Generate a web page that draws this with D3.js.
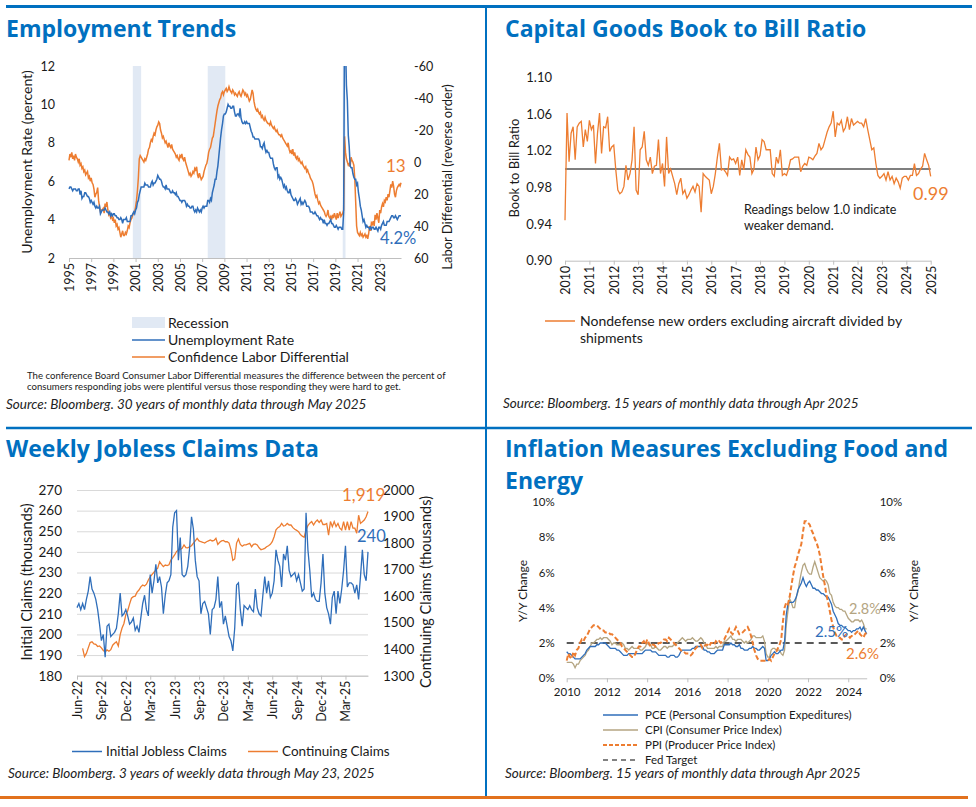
<!DOCTYPE html>
<html>
<head>
<meta charset="utf-8">
<script src="https://cdn.jsdelivr.net/npm/d3@7"></script>
<style>
body { margin: 0; background: #fff; }
svg text { font-family: Lato, sans-serif; fill: #1a1a1a; }
.title { font-family: "Open Sans", sans-serif; font-weight: 700; font-size: 23px; fill: #0070c0; }
.source { font-style: italic; font-size: 13.5px; fill: #222; }
.axis .domain { stroke: #bfbfbf; }
.axis line { stroke: #bfbfbf; }
</style>
</head>
<body>
<svg id="chart" width="976" height="807"></svg>
<script>
// VARIABLES
var width = 976;
var height = 807;

var blueLine = "#2f6eba";
var orangeLine = "#ed7d31";
var tanLine = "#b4a582";
var recessionFill = "#e1e9f4";

// ---------- Employment Trends (monthly, Jun 1995 - May 2025)
var yearLabels1 = ["1995","1997","1999","2001","2003","2005","2007","2009","2011","2013","2015","2017","2019","2021","2023"];
var recessions = [["2001-03","2001-11"],["2007-12","2009-06"],["2020-02","2020-04"]];
var unempRate = [5.6,5.7,5.7,5.6,5.5,5.6,5.6,
  5.6,5.5,5.5,5.6,5.6,5.3,5.5,5.1,5.2,5.2,5.4,5.4,
  5.3,5.2,5.2,5.1,4.9,5.0,4.9,4.8,4.9,4.7,4.6,4.7,
  4.6,4.6,4.7,4.3,4.4,4.5,4.5,4.5,4.6,4.5,4.4,4.4,
  4.3,4.4,4.2,4.3,4.2,4.3,4.3,4.2,4.2,4.1,4.1,4.0,
  4.0,4.1,4.0,3.8,4.0,4.0,4.0,4.1,3.9,3.9,3.9,3.9,
  4.2,4.2,4.3,4.4,4.3,4.5,4.6,4.9,5.0,5.3,5.5,5.7,
  5.7,5.7,5.7,5.9,5.8,5.8,5.8,5.7,5.7,5.7,5.9,6.0,
  5.8,5.9,5.9,6.0,6.1,6.3,6.2,6.1,6.1,6.0,5.8,5.7,
  5.7,5.6,5.8,5.6,5.6,5.6,5.5,5.4,5.4,5.5,5.4,5.4,
  5.3,5.4,5.2,5.2,5.1,5.0,5.0,4.9,5.0,5.0,5.0,4.9,
  4.7,4.8,4.7,4.7,4.6,4.6,4.7,4.7,4.5,4.4,4.5,4.4,
  4.6,4.5,4.4,4.5,4.4,4.6,4.7,4.6,4.7,4.7,4.7,5.0,
  5.0,4.9,5.1,5.0,5.4,5.6,5.8,6.1,6.1,6.5,6.8,7.3,
  7.8,8.3,8.7,9.0,9.4,9.5,9.5,9.6,9.8,10.0,9.9,9.9,
  9.8,9.8,9.9,9.9,9.6,9.4,9.4,9.5,9.5,9.4,9.8,9.3,
  9.1,9.0,9.0,9.1,9.0,9.1,9.0,9.0,9.0,8.8,8.6,8.5,
  8.3,8.3,8.2,8.2,8.2,8.2,8.2,8.1,7.8,7.8,7.7,7.9,
  8.0,7.7,7.5,7.6,7.5,7.5,7.3,7.2,7.2,7.2,6.9,6.7,
  6.6,6.7,6.7,6.2,6.3,6.1,6.2,6.1,5.9,5.7,5.8,5.6,
  5.7,5.5,5.4,5.4,5.6,5.3,5.2,5.1,5.0,5.0,5.1,5.0,
  4.8,4.9,5.0,5.1,4.8,4.9,4.8,4.9,5.0,4.9,4.7,4.7,
  4.7,4.6,4.4,4.4,4.4,4.3,4.3,4.4,4.3,4.2,4.2,4.1,
  4.0,4.1,4.0,4.0,3.8,4.0,3.8,3.8,3.7,3.8,3.8,3.9,
  4.0,3.8,3.8,3.7,3.6,3.6,3.7,3.6,3.5,3.6,3.6,3.6,
  3.5,3.5,4.4,14.8,13.2,11.0,10.2,8.4,7.8,6.8,6.7,6.7,
  6.4,6.2,6.1,6.1,5.8,5.9,5.4,5.1,4.7,4.5,4.2,3.9,
  4.0,3.8,3.6,3.7,3.6,3.6,3.5,3.6,3.5,3.6,3.6,3.5,
  3.5,3.6,3.5,3.4,3.6,3.6,3.5,3.7,3.8,3.9,3.7,3.7,
  3.7,3.9,3.9,3.9,4.0,4.1,4.2,4.2,4.1,4.1,4.2,4.1,
  4.0,4.1,4.2,4.2,4.2];
var laborDiff = [-1,-5,-3,-6,-2,-4,-1,-5,-3,-2,0,-2,
  2,1,4,3,6,5,8,7,6,10,9,12,
  10,13,14,17,22,20,19,16,24,28,31,30,
  30,29,32,26,28,25,30,33,32,35,34,36,
  35,38,36,40,39,42,41,44,47,45,43,46,
  46,44,45,43,40,41,38,36,35,33,32,31,
  28,24,18,10,-2,-4,-3,-2,-1,0,-2,-1,
  -3,-5,-8,-9,-12,-14,-13,-16,-18,-17,-20,-22,
  -23,-25,-24,-20,-18,-15,-16,-14,-12,-13,-11,-9,
  -12,-10,-9,-11,-8,-7,-6,-5,-3,-4,-2,-1,
  -4,-3,-5,-2,-1,-3,0,2,4,6,8,7,
  9,8,6,7,4,5,3,8,10,7,9,11,
  10,9,6,4,2,1,-2,-6,-8,-9,-12,-15,
  -16,-20,-24,-28,-32,-35,-37,-39,-40,-43,-44,-42,
  -44,-45,-46,-44,-45,-47,-45,-44,-43,-45,-44,-42,
  -43,-42,-41,-43,-44,-42,-41,-43,-45,-44,-42,-43,
  -41,-42,-40,-38,-39,-42,-45,-43,-38,-35,-33,-32,
  -33,-31,-30,-31,-28,-29,-27,-26,-28,-26,-25,-24,
  -24,-23,-25,-23,-22,-21,-22,-20,-19,-20,-18,-17,
  -17,-16,-17,-15,-14,-13,-12,-11,-10,-12,-8,-6,
  -7,-5,-8,-4,-6,-3,-2,-4,-1,-2,0,1,
  0,2,3,4,3,6,5,7,8,10,11,12,
  14,17,20,22,21,24,26,25,27,28,29,30,
  31,33,34,33,30,34,35,34,36,33,35,32,
  34,36,32,35,33,31,34,33,32,30,-16,-6,
  -2,0,2,1,3,-3,-1,0,2,10,25,40,
  44,45,46,44,46,45,47,46,45,47,46,48,
  45,40,43,38,39,37,40,33,36,32,35,38,
  30,32,28,26,28,24,25,22,24,20,22,18,
  14,16,12,15,20,22,18,16,15,14,15,13];

// ---------- Capital goods book to bill (monthly)
var yearLabels2 = ["2010","2011","2012","2013","2014","2015","2016","2017","2018","2019","2020","2021","2022","2023","2024","2025"];
var bookToBill = [0.944,1.061,1.008,1.039,1.046,1.010,1.046,1.050,1.052,1.024,1.043,1.030,
  1.053,1.043,1.048,1.006,1.039,1.061,1.017,1.046,1.045,1.057,1.019,1.024,
  1.026,0.999,0.977,0.973,0.975,0.981,1.004,0.988,0.995,1.010,1.046,0.977,
  0.972,1.021,1.024,1.041,1.010,1.004,1.013,0.995,1.003,1.004,1.032,0.995,
  1.006,0.981,1.035,0.995,1.000,0.992,0.984,0.972,0.984,0.990,0.973,0.977,
  0.968,0.972,0.977,0.981,0.975,0.984,0.981,0.953,0.995,0.992,0.990,0.988,
  0.973,0.981,0.995,1.013,1.028,0.999,1.000,0.997,0.993,1.013,1.010,1.011,
  1.006,1.013,0.993,1.010,0.999,1.021,1.016,1.013,0.995,1.000,1.024,1.010,
  1.015,1.032,1.030,1.021,1.021,1.021,0.995,0.992,1.013,1.006,1.021,0.993,
  0.995,0.993,1.000,1.010,1.011,1.013,1.013,1.013,0.997,1.003,1.006,1.004,
  1.013,1.012,1.010,1.014,1.017,1.028,1.021,1.024,1.032,1.040,1.046,1.050,
  1.063,1.035,1.050,1.048,1.053,1.041,1.045,1.057,1.043,1.055,1.048,1.050,
  1.052,1.050,1.050,1.046,1.055,1.043,1.032,1.021,1.023,1.006,0.993,0.990,
  0.992,0.995,0.988,0.997,0.988,0.992,0.984,0.990,0.986,0.979,0.990,0.992,
  0.992,0.988,0.993,0.993,1.006,0.993,0.995,1.000,1.003,1.017,1.010,1.004,
  0.992];
var bookTicks = [0.90,0.94,0.98,1.02,1.06,1.10];

// ---------- Weekly jobless claims (Jun 2022 - May 23, 2025)
var weekLabels = ["Jun-22","Sep-22","Dec-22","Mar-23","Jun-23","Sep-23","Dec-23","Mar-24","Jun-24","Sep-24","Dec-24","Mar-25"];
var initialClaims = [213,215,212,215,212,217,221,228,222,220,
  217,212,205,197,200,189,204,205,199,200,
  201,203,210,220,209,210,212,209,205,206,
  208,202,204,201,208,215,219,212,209,229,
  220,226,234,225,228,223,210,219,225,226,
  229,252,259,260,236,247,229,228,229,233,
  242,257,251,236,228,226,210,215,216,213,
  210,200,212,213,217,228,213,216,205,209,
  204,199,197,192,203,224,225,212,204,214,
  213,212,214,212,211,222,213,210,209,219,
  228,220,226,218,220,226,241,236,233,223,
  239,236,243,231,228,229,230,226,229,225,
  221,222,259,241,231,218,220,217,216,216,
  225,239,220,213,210,205,218,221,210,221,
  215,222,231,243,223,225,225,224,220,224,
  217,228,241,229,226,240];
var continuingClaims = [null,null,null,1403,1372,1384,1405,1425,1428,1420,
  1418,1410,1412,1405,1395,1390,1397,1392,1398,1415,
  1422,1428,1412,1455,1480,1497,1530,1545,1570,1592,
  1598,1600,1615,1623,1635,1642,1638,1645,1661,1673,
  1682,1690,1698,1705,1730,1720,1711,1717,1715,1718,
  1736,1745,1755,1768,1774,1776,1780,1793,1783,1782,
  1786,1790,1800,1808,1818,1808,1805,1803,1800,1805,
  1808,1812,1808,1810,1818,1795,1803,1808,1810,1805,
  1805,1800,1775,1735,1740,1800,1815,1795,1788,1793,
  1793,1796,1799,1786,1795,1797,1793,1782,1775,1777,
  1780,1786,1790,1795,1805,1824,1850,1858,1862,1874,
  1864,1866,1874,1868,1868,1858,1852,1848,1843,1832,
  1826,1822,1849,1866,1875,1881,1868,1880,1887,1878,
  1887,1870,1870,1874,1830,1881,1862,1881,1862,1874,
  1856,1849,1881,1849,1881,1849,1881,1856,1856,1837,
  1905,1874,1880,1887,1899,1919];

// ---------- Inflation ex food & energy (monthly, May 2010 - Apr 2025)
var yearLabels4 = ["2010","2012","2014","2016","2018","2020","2022","2024"];
var pce = [1.5,1.4,1.4,1.3,1.2,1.1,1.1,1.1,
  1.1,1.2,1.3,1.4,1.6,1.7,1.8,1.8,1.8,1.8,1.9,1.9,
  2.0,2.0,2.0,2.0,1.9,1.8,1.7,1.7,1.7,1.7,1.6,1.6,
  1.5,1.4,1.3,1.3,1.3,1.4,1.4,1.4,1.4,1.4,1.4,1.4,
  1.4,1.4,1.5,1.6,1.6,1.6,1.6,1.5,1.5,1.5,1.4,1.3,
  1.3,1.3,1.3,1.3,1.2,1.2,1.3,1.3,1.3,1.2,1.2,1.3,
  1.5,1.6,1.6,1.6,1.6,1.6,1.6,1.7,1.7,1.8,1.8,1.8,
  1.8,1.8,1.6,1.6,1.5,1.5,1.4,1.4,1.4,1.5,1.6,1.6,
  1.6,1.6,1.9,1.9,1.9,1.9,2.0,1.9,1.9,1.8,1.8,1.9,
  1.7,1.7,1.6,1.6,1.6,1.7,1.7,1.8,1.7,1.7,1.6,1.6,
  1.7,1.8,1.7,1.0,1.0,1.1,1.3,1.4,1.5,1.4,1.4,1.5,
  1.6,1.6,2.1,3.6,4.2,4.3,4.3,4.3,4.4,4.6,5.0,5.2,
  5.4,5.7,5.4,5.2,5.4,5.5,5.3,5.1,5.1,5.0,5.0,4.9,
  4.8,4.8,4.7,4.6,4.6,4.4,4.2,3.8,3.6,3.4,3.1,3.0,
  3.0,2.9,2.9,2.8,2.7,2.7,2.6,2.7,2.7,2.8,2.8,2.9,
  2.7,2.9,2.7,2.5];
var cpi = [0.9,0.9,0.9,0.9,0.8,0.6,0.8,0.8,
  1.0,1.1,1.2,1.3,1.5,1.6,1.8,2.0,2.0,2.1,2.2,2.2,
  2.3,2.2,2.3,2.3,2.3,2.2,2.1,1.9,2.0,2.0,1.9,1.9,
  1.9,2.0,1.9,1.7,1.7,1.6,1.7,1.8,1.7,1.7,1.7,1.7,
  1.6,1.6,1.7,1.8,2.0,1.9,1.9,1.7,1.7,1.8,1.7,1.6,
  1.6,1.7,1.8,1.8,1.7,1.8,1.8,1.8,1.9,1.9,2.0,2.1,
  2.2,2.3,2.2,2.1,2.2,2.2,2.2,2.3,2.2,2.1,2.1,2.2,
  2.3,2.2,2.0,1.9,1.7,1.7,1.7,1.7,1.7,1.8,1.7,1.8,
  1.8,1.8,2.1,2.1,2.2,2.3,2.4,2.2,2.2,2.1,2.2,2.2,
  2.2,2.1,2.0,2.1,2.0,2.1,2.2,2.4,2.4,2.3,2.3,2.3,
  2.3,2.4,2.1,1.4,1.2,1.2,1.6,1.7,1.7,1.6,1.6,1.6,
  1.4,1.3,1.6,3.0,3.8,4.5,4.3,4.0,4.0,4.6,4.9,5.5,
  6.0,6.4,6.5,6.2,6.0,5.9,5.9,6.3,6.6,6.3,6.0,5.7,
  5.6,5.5,5.6,5.5,5.3,4.8,4.7,4.3,4.1,4.0,4.0,3.9,
  3.9,3.8,3.8,3.6,3.4,3.3,3.2,3.2,3.3,3.3,3.3,3.2,
  3.3,3.1,2.8,2.8];
var ppi = [1.0,1.4,1.2,1.1,1.5,1.3,1.6,1.7,
  2.0,2.2,2.1,2.3,2.4,2.6,2.8,2.9,3.0,3.0,3.0,2.9,
  2.8,2.7,2.7,2.6,2.6,2.6,2.5,2.5,2.4,2.3,2.2,2.1,
  2.0,1.8,1.7,1.6,1.5,1.4,1.3,1.2,1.2,1.4,1.6,1.8,
  1.8,2.0,2.1,1.9,2.2,2.0,1.8,1.9,1.9,1.8,1.9,2.0,
  2.0,2.1,2.2,2.2,2.1,2.3,2.2,2.1,2.0,1.9,1.8,1.7,
  1.6,1.5,1.5,1.4,1.4,1.4,1.3,1.4,1.6,1.7,1.8,1.9,
  1.9,1.7,1.8,1.9,1.9,1.8,2.0,2.0,1.9,2.1,2.0,2.1,
  2.0,2.1,2.2,2.4,2.6,2.8,2.6,2.5,2.7,2.9,2.7,2.5,
  2.5,2.6,2.7,2.8,2.9,2.7,2.4,2.0,1.6,1.3,1.1,1.0,
  1.0,1.0,1.0,1.0,1.0,1.1,1.0,1.2,1.4,1.5,1.7,1.9,
  2.2,3.2,4.0,4.3,4.2,4.6,5.2,5.8,6.3,6.6,7.0,7.3,
  7.6,8.3,8.9,8.9,8.8,8.7,8.4,8.2,7.9,7.7,7.4,7.0,
  6.4,5.8,5.3,4.7,4.3,3.8,3.3,2.9,2.6,2.4,2.3,2.3,
  2.2,2.2,2.4,2.5,2.4,2.3,2.4,2.4,2.5,2.6,2.7,2.5,
  2.4,2.3,2.5,2.6];
var fedTarget = 2;

var svg = d3.select("#chart");

// helpers
function rotatedLabel(g, x, y, txt, size) {
  g.append("text")
    .attr("transform", "translate(" + x + "," + y + ") rotate(-90)")
    .attr("text-anchor", "middle")
    .attr("font-size", size)
    .text(txt);
}

function plainAxis(g) {
  g.select(".domain").remove();
  g.selectAll("line").remove();
}

function rotateTicks(g, size) {
  g.selectAll("text")
    .attr("transform", "rotate(-90)")
    .attr("x", -5)
    .attr("y", 0)
    .attr("dy", "0.35em")
    .attr("font-size", size)
    .style("text-anchor", "end");
}

// plain hyphen minus, no thousands comma (as in the source charts)
var plainNum = function(d) { return String(d); };

// FRAME LINES
svg.append("line").attr("x1", 6).attr("x2", 972).attr("y1", 6.5).attr("y2", 6.5)
  .attr("stroke", "#0070c0").attr("stroke-width", 3);
svg.append("line").attr("x1", 6).attr("x2", 972).attr("y1", 428).attr("y2", 428)
  .attr("stroke", "#0070c0").attr("stroke-width", 2.5);
svg.append("line").attr("x1", 486).attr("x2", 486).attr("y1", 8).attr("y2", 796)
  .attr("stroke", "#0070c0").attr("stroke-width", 2);
svg.append("line").attr("x1", 0).attr("x2", 968).attr("y1", 797.5).attr("y2", 797.5)
  .attr("stroke", "#e2711d").attr("stroke-width", 3);

// TITLES
svg.append("text").attr("class", "title").attr("x", 6).attr("y", 37).text("Employment Trends");
svg.append("text").attr("class", "title").attr("x", 505).attr("y", 37).text("Capital Goods Book to Bill Ratio");
svg.append("text").attr("class", "title").attr("x", 6).attr("y", 457).text("Weekly Jobless Claims Data");
svg.append("text").attr("class", "title").attr("x", 505).attr("y", 457).text("Inflation Measures Excluding Food and");
svg.append("text").attr("class", "title").attr("x", 505).attr("y", 489).text("Energy");

// ================= PANEL 1 =================
var p1 = svg.append("g");
var x1 = d3.scaleLinear().domain([0, unempRate.length - 1]).range([69, 401]);
var y1L = d3.scaleLinear().domain([2, 12]).range([258, 66]);
var y1R = d3.scaleLinear().domain([60, -60]).range([258, 66]);

var monthIndex = function(s) {
  var p = s.split("-");
  return (+p[0] - 1995) * 12 + (+p[1] - 6);
};

p1.selectAll("rect.rec")
  .data(recessions)
  .enter()
  .append("rect")
  .attr("class", "rec")
  .attr("x", function(d) { return x1(monthIndex(d[0])); })
  .attr("width", function(d) { return x1(monthIndex(d[1]) + 1) - x1(monthIndex(d[0])); })
  .attr("y", y1L(12))
  .attr("height", y1L(2) - y1L(12))
  .attr("fill", recessionFill);

svg.append("clipPath").attr("id", "clip1")
  .append("rect").attr("x", 60).attr("y", 66).attr("width", 350).attr("height", 192);

p1.append("path")
  .datum(laborDiff)
  .attr("clip-path", "url(#clip1)")
  .attr("fill", "none")
  .attr("stroke", orangeLine)
  .attr("stroke-width", 1.5)
  .attr("d", d3.line().x(function(d, i) { return x1(i); }).y(function(d) { return y1R(d); }));

p1.append("path")
  .datum(unempRate)
  .attr("clip-path", "url(#clip1)")
  .attr("fill", "none")
  .attr("stroke", blueLine)
  .attr("stroke-width", 1.5)
  .attr("d", d3.line().x(function(d, i) { return x1(i); }).y(function(d) { return y1L(d); }));

p1.append("g").attr("transform", "translate(69,0)")
  .call(d3.axisLeft(y1L).tickValues([2, 4, 6, 8, 10, 12]).tickSize(0).tickPadding(14))
  .call(plainAxis)
  .selectAll("text").attr("font-size", 12.5);

p1.append("g").attr("transform", "translate(401,0)")
  .call(d3.axisRight(y1R).tickValues([-60, -40, -20, 0, 20, 40, 60]).tickFormat(plainNum).tickSize(0).tickPadding(13))
  .call(plainAxis)
  .selectAll("text").attr("font-size", 12.5);

p1.append("g").attr("class", "axis").attr("transform", "translate(0,258)")
  .call(d3.axisBottom(x1)
    .tickValues(yearLabels1.map(function(d, i) { return i * 24; }))
    .tickFormat(function(d, i) { return yearLabels1[i]; })
    .tickSize(4).tickSizeOuter(0))
  .call(function(g) { rotateTicks(g, 12.5); });

rotatedLabel(p1, 32, 162, "Unemployment Rate (percent)", 14);
rotatedLabel(p1, 452, 177, "Labor Differential (reverse order)", 13);

p1.append("text").attr("x", 386).attr("y", 172).attr("font-size", 17).style("fill", orangeLine)
  .text(laborDiff[laborDiff.length - 1]);
p1.append("text").attr("x", 380).attr("y", 244).attr("font-size", 16.5).style("fill", blueLine)
  .text(unempRate[unempRate.length - 1].toFixed(1) + "%");

// legend
p1.append("rect").attr("x", 132).attr("y", 317).attr("width", 33).attr("height", 11).attr("fill", recessionFill);
p1.append("line").attr("x1", 132).attr("x2", 165).attr("y1", 340).attr("y2", 340).attr("stroke", blueLine).attr("stroke-width", 1.5);
p1.append("line").attr("x1", 132).attr("x2", 165).attr("y1", 357).attr("y2", 357).attr("stroke", orangeLine).attr("stroke-width", 1.5);
p1.append("text").attr("x", 168).attr("y", 327.5).attr("font-size", 14).text("Recession");
p1.append("text").attr("x", 168).attr("y", 345).attr("font-size", 14).text("Unemployment Rate");
p1.append("text").attr("x", 168).attr("y", 362).attr("font-size", 14).text("Confidence Labor Differential");

p1.append("text").attr("x", 27).attr("y", 379).attr("font-size", 9.6)
  .text("The conference Board Consumer Labor Differential measures the difference between the percent of");
p1.append("text").attr("x", 27).attr("y", 390).attr("font-size", 9.6)
  .text("consumers responding jobs were plentiful versus those responding they were hard to get.");
p1.append("text").attr("class", "source").attr("x", 6).attr("y", 409)
  .text("Source: Bloomberg. 30 years of monthly data through May 2025");

// ================= PANEL 2 =================
var p2 = svg.append("g");
var x2 = d3.scaleLinear().domain([0, bookToBill.length - 1]).range([565, 930.7]);
var y2 = d3.scaleLinear().domain([0.90, 1.10]).range([260.7, 77.3]);

p2.append("line")
  .attr("x1", x2(0)).attr("x2", x2(bookToBill.length - 1))
  .attr("y1", y2(1)).attr("y2", y2(1))
  .attr("stroke", "#555").attr("stroke-width", 1.3);

p2.append("path")
  .datum(bookToBill)
  .attr("fill", "none")
  .attr("stroke", orangeLine)
  .attr("stroke-width", 1.3)
  .attr("d", d3.line().x(function(d, i) { return x2(i); }).y(function(d) { return y2(d); }));

p2.append("g").attr("transform", "translate(565,0)")
  .call(d3.axisLeft(y2).tickValues(bookTicks).tickFormat(d3.format(".2f")).tickSize(0).tickPadding(13))
  .call(plainAxis)
  .selectAll("text").attr("font-size", 13);

p2.append("g").attr("class", "axis").attr("transform", "translate(0,260.7)")
  .call(d3.axisBottom(x2)
    .tickValues(yearLabels2.map(function(d, i) { return i * 12; }))
    .tickFormat(function(d, i) { return yearLabels2[i]; })
    .tickSize(4).tickSizeOuter(0))
  .call(function(g) { rotateTicks(g, 12.5); });

rotatedLabel(p2, 519, 168, "Book to Bill Ratio", 13);

p2.append("text").attr("x", 744).attr("y", 214).attr("font-size", 12.5).text("Readings below 1.0 indicate");
p2.append("text").attr("x", 744).attr("y", 230).attr("font-size", 12.5).text("weaker demand.");
p2.append("text").attr("x", 913).attr("y", 200).attr("font-size", 18).style("fill", orangeLine)
  .text(bookToBill[bookToBill.length - 1].toFixed(2));

p2.append("line").attr("x1", 545).attr("x2", 575).attr("y1", 321).attr("y2", 321).attr("stroke", orangeLine).attr("stroke-width", 1.5);
p2.append("text").attr("x", 580).attr("y", 326).attr("font-size", 14).text("Nondefense new orders excluding aircraft divided by");
p2.append("text").attr("x", 580).attr("y", 343).attr("font-size", 14).text("shipments");
p2.append("text").attr("class", "source").attr("x", 503).attr("y", 408)
  .text("Source: Bloomberg. 15 years of monthly data through Apr 2025");

// ================= PANEL 3 =================
var p3 = svg.append("g");
var x3 = d3.scaleLinear().domain([0, initialClaims.length - 1]).range([77, 368]);
var y3L = d3.scaleLinear().domain([180, 270]).range([675.7, 490]);
var y3R = d3.scaleLinear().domain([1300, 2000]).range([675.7, 490]);

p3.append("g").attr("transform", "translate(77,0)")
  .call(d3.axisLeft(y3L).ticks(9).tickSize(-291).tickPadding(15))
  .call(function(g) {
    g.select(".domain").remove();
    g.selectAll("line").attr("stroke", "#d9d9d9");
    g.selectAll("text").attr("font-size", 13.5);
  });

p3.append("g").attr("transform", "translate(368,0)")
  .call(d3.axisRight(y3R).ticks(7).tickFormat(plainNum).tickSize(0).tickPadding(15))
  .call(plainAxis)
  .selectAll("text").attr("font-size", 13.5);

p3.append("g").attr("class", "axis").attr("transform", "translate(0,675.7)")
  .call(d3.axisBottom(x3)
    .tickValues(weekLabels.map(function(d, i) { return i * 13; }))
    .tickFormat(function(d, i) { return weekLabels[i]; })
    .tickSize(4).tickSizeOuter(0))
  .call(function(g) { rotateTicks(g, 12.5); });

p3.append("path")
  .datum(continuingClaims)
  .attr("fill", "none")
  .attr("stroke", orangeLine)
  .attr("stroke-width", 1.3)
  .attr("d", d3.line().defined(function(d) { return d !== null; })
    .x(function(d, i) { return x3(i); }).y(function(d) { return y3R(d); }));

p3.append("path")
  .datum(initialClaims)
  .attr("fill", "none")
  .attr("stroke", blueLine)
  .attr("stroke-width", 1.3)
  .attr("d", d3.line().x(function(d, i) { return x3(i); }).y(function(d) { return y3L(d); }));

rotatedLabel(p3, 32, 582, "Initial Claims (thousands)", 14.5);
rotatedLabel(p3, 431, 592, "Continuing Claims (thousands)", 14.5);

p3.append("text").attr("x", 342).attr("y", 501).attr("font-size", 17).style("fill", orangeLine)
  .text(d3.format(",")(continuingClaims[continuingClaims.length - 1]));
p3.append("text").attr("x", 357).attr("y", 542).attr("font-size", 16.5).style("fill", blueLine)
  .text(initialClaims[initialClaims.length - 1]);

p3.append("line").attr("x1", 72).attr("x2", 102).attr("y1", 751.5).attr("y2", 751.5).attr("stroke", blueLine).attr("stroke-width", 1.5);
p3.append("text").attr("x", 106).attr("y", 756).attr("font-size", 13.5).text("Initial Jobless Claims");
p3.append("line").attr("x1", 248).attr("x2", 278).attr("y1", 751.5).attr("y2", 751.5).attr("stroke", orangeLine).attr("stroke-width", 1.5);
p3.append("text").attr("x", 282).attr("y", 756).attr("font-size", 13.5).text("Continuing Claims");
p3.append("text").attr("class", "source").attr("x", 8).attr("y", 778)
  .text("Source: Bloomberg. 3 years of weekly data through May 23, 2025");

// ================= PANEL 4 =================
var p4 = svg.append("g");
var x4 = d3.scaleLinear().domain([0, pce.length - 1]).range([566.7, 866.7]);
var y4 = d3.scaleLinear().domain([0, 10]).range([678.3, 501.7]);
var line4 = d3.line().x(function(d, i) { return x4(i); }).y(function(d) { return y4(d); });

p4.append("g").attr("transform", "translate(566.7,0)")
  .call(d3.axisLeft(y4).tickValues([0, 2, 4, 6, 8, 10]).tickFormat(function(d) { return d + "%"; }).tickSize(0).tickPadding(12))
  .call(plainAxis)
  .selectAll("text").attr("font-size", 11.5);

p4.append("g").attr("transform", "translate(866.7,0)")
  .call(d3.axisRight(y4).tickValues([0, 2, 4, 6, 8, 10]).tickFormat(function(d) { return d + "%"; }).tickSize(0).tickPadding(13))
  .call(plainAxis)
  .selectAll("text").attr("font-size", 11.5);

p4.append("g").attr("class", "axis").attr("transform", "translate(0,678.3)")
  .call(d3.axisBottom(x4)
    .tickValues(yearLabels4.map(function(d, i) { return i * 24; }))
    .tickFormat(function(d, i) { return yearLabels4[i]; })
    .tickSize(4).tickSizeOuter(0).tickPadding(6))
  .selectAll("text").attr("font-size", 11.5);

p4.append("line")
  .attr("x1", x4(0)).attr("x2", x4(pce.length - 1))
  .attr("y1", y4(fedTarget)).attr("y2", y4(fedTarget))
  .attr("stroke", "#595959").attr("stroke-width", 2).attr("stroke-dasharray", "7,5");

p4.append("path").datum(cpi).attr("fill", "none").attr("stroke", tanLine).attr("stroke-width", 1.3).attr("d", line4);
p4.append("path").datum(pce).attr("fill", "none").attr("stroke", blueLine).attr("stroke-width", 1.3).attr("d", line4);
p4.append("path").datum(ppi).attr("fill", "none").attr("stroke", orangeLine).attr("stroke-width", 2)
  .attr("stroke-dasharray", "5,2.5").attr("d", line4);

rotatedLabel(p4, 527, 591, "Y/Y Change", 12);
rotatedLabel(p4, 918, 591, "Y/Y Change", 12);

p4.append("text").attr("x", 849).attr("y", 614).attr("font-size", 14.5).style("fill", tanLine)
  .text(cpi[cpi.length - 1].toFixed(1) + "%");
p4.append("text").attr("x", 815).attr("y", 637).attr("font-size", 15).style("fill", blueLine)
  .text(pce[pce.length - 1].toFixed(1) + "%");
p4.append("text").attr("x", 846).attr("y", 659).attr("font-size", 15).style("fill", orangeLine)
  .text(ppi[ppi.length - 1].toFixed(1) + "%");

// legend
var legend4 = [
  {label: "PCE (Personal Consumption Expeditures)", color: blueLine, w: 1.3, dash: null},
  {label: "CPI (Consumer Price Index)", color: tanLine, w: 1.3, dash: null},
  {label: "PPI (Producer Price Index)", color: orangeLine, w: 2, dash: "4,2"},
  {label: "Fed Target", color: "#595959", w: 1.5, dash: "5,4"}
];
var lg4 = p4.selectAll("g.lg").data(legend4).enter().append("g")
  .attr("transform", function(d, i) { return "translate(603," + (715 + i * 15) + ")"; });
lg4.append("line").attr("x1", 0).attr("x2", 35).attr("y1", 0).attr("y2", 0)
  .attr("stroke", function(d) { return d.color; })
  .attr("stroke-width", function(d) { return d.w; })
  .attr("stroke-dasharray", function(d) { return d.dash; });
lg4.append("text").attr("x", 42).attr("y", 4).attr("font-size", 11.5).text(function(d) { return d.label; });

p4.append("text").attr("class", "source").attr("x", 505).attr("y", 778)
  .text("Source: Bloomberg. 15 years of monthly data through Apr 2025");
</script>
</body>
</html>
